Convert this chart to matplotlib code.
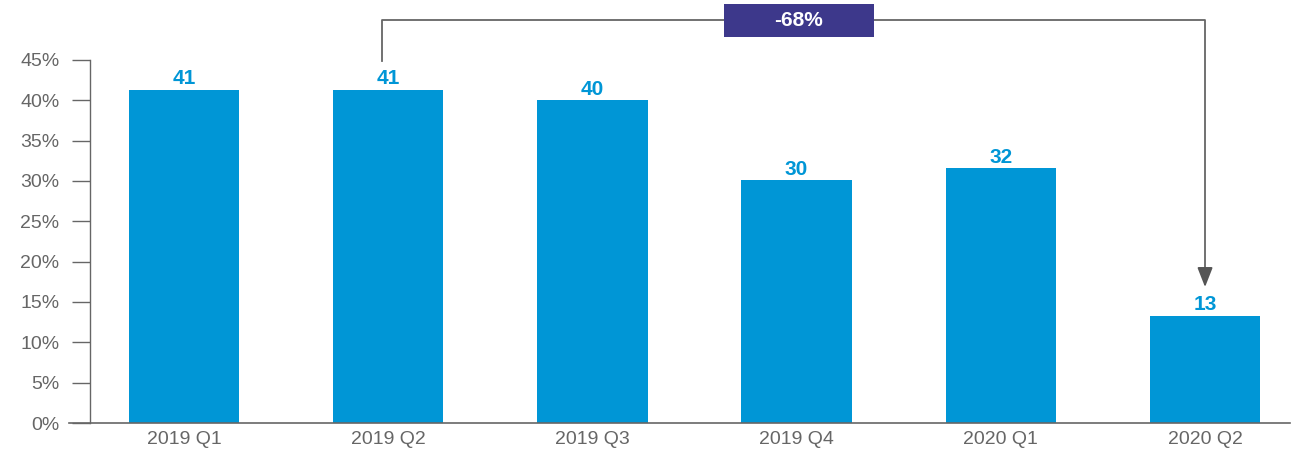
import matplotlib
matplotlib.use("Agg")
import matplotlib.pyplot as plt
from matplotlib.patches import Rectangle

# data
quarters = ["2019 Q1", "2019 Q2", "2019 Q3", "2019 Q4", "2020 Q1", "2020 Q2"]
share = [41.3, 41.3, 40.0, 30.1, 31.6, 13.3]
bar_labels = ["41", "41", "40", "30", "32", "13"]
change_label = "-68%"

plt.rcParams['font.family'] = ['Liberation Sans', 'DejaVu Sans']

W, H = 1292, 451
fig = plt.figure(figsize=(W / 100, H / 100), dpi=100)
# axes from x=69 to 1290 px, y=423 (0%) to 60 (45%)
ax = fig.add_axes([69 / W, (H - 423) / H, (1290 - 69) / W, (423 - 60) / H])

blue = "#0096D6"
grey = "#666666"
x = list(range(len(quarters)))
ax.bar(x, share, width=0.54, color=blue, zorder=2)

for i, (v, lab) in enumerate(zip(share, bar_labels)):
    ax.annotate(lab, (i, v), xytext=(0, 1.0), textcoords="offset points",
                ha="center", va="bottom", color=blue, fontsize=15,
                fontweight="bold")

ax.set_xlim(-0.563, 5.416)
ax.set_ylim(0, 45)
ax.set_yticks(range(0, 50, 5))
ax.set_yticklabels([f"{t}%" for t in range(0, 50, 5)])
ax.set_xticks(x)
ax.set_xticklabels(quarters)

for s in ["top", "right"]:
    ax.spines[s].set_visible(False)
ax.spines["left"].set_position(("axes", 21 / (1290 - 69)))
ax.spines["left"].set_color(grey)
ax.spines["bottom"].set_color(grey)
ax.spines["left"].set_linewidth(1.0)
ax.spines["bottom"].set_linewidth(1.2)

ax.tick_params(axis="y", length=13, width=1.0, color=grey, labelcolor=grey,
               labelsize=14, pad=9)
ax.tick_params(axis="x", length=0, labelcolor=grey, labelsize=14, pad=6)

# bracket from Q2 to 2020 Q2 above the bars
ytop = 49.95
x0 = 0.97
x1 = 5.0
ax.plot([x0, x0, x1, x1], [44.9, ytop, ytop, 18.0], color=grey, lw=1.3,
        clip_on=False, zorder=3)
ax.annotate("", xy=(x1, 16.85), xytext=(x1, 19.2),
            arrowprops=dict(arrowstyle="-|>,head_length=1.2,head_width=0.47",
                            color="#555555", lw=1.3, shrinkA=0, shrinkB=0),
            annotation_clip=False)

bx0, bx1 = 2.643, 3.378
box = Rectangle((bx0, 47.9), bx1 - bx0, 4.1, facecolor="#3D388B",
                edgecolor="none", clip_on=False, zorder=4)
ax.add_patch(box)
ax.text((bx0 + bx1) / 2, 49.95, change_label, ha="center", va="center",
        color="white", fontsize=15, fontweight="bold", zorder=5)

fig.savefig("out.png", dpi=100)
